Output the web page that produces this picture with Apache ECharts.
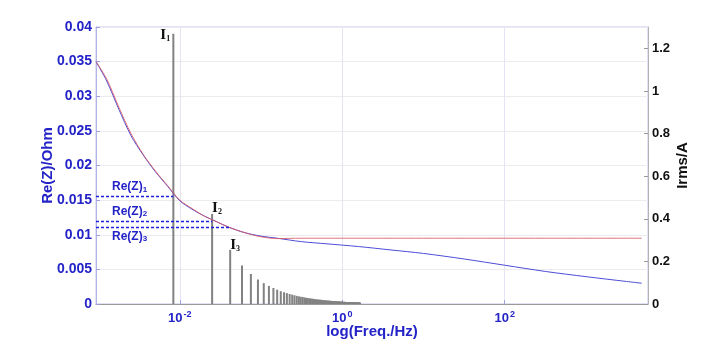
<!DOCTYPE html>
<html>
<head>
<meta charset="utf-8">
<script src="https://cdn.jsdelivr.net/npm/echarts@6/dist/echarts.min.js"></script>
<style>
html, body { margin: 0; padding: 0; background: #fff; }
#main { width: 707px; height: 340px; }
</style>
</head>
<body>
<div id="main"></div>
<script>
// axis ranges
var freqMin = 0.00093, freqMax = 5800;
var xTicks = [0.01, 1, 100];
var reMax = 0.04, reStep = 0.005;
var irmsMax = 1.3, irmsStep = 0.2;

// Re(Z) curves (freq in Hz)
var curveFreq = [0.00093, 0.00126, 0.00178, 0.00251, 0.00355, 0.00501, 0.00708, 0.01, 0.0141, 0.02, 0.0282, 0.0398,
    0.0631, 0.1, 0.158, 0.316, 0.631, 1.58, 3.98, 10, 31.6, 100, 316, 1000, 3162, 4850];
var reMeasured = [0.0350, 0.0322, 0.0281, 0.0243, 0.0215, 0.0191, 0.0170, 0.0149, 0.0137, 0.0127, 0.0119, 0.0111,
    0.0103, 0.0098, 0.0095, 0.0090, 0.0087, 0.0083, 0.0078, 0.0073, 0.0065, 0.0056, 0.0047, 0.00395, 0.00325, 0.0030];
var reFitted = [0.0350, 0.0325, 0.0284, 0.0246, 0.0216, 0.0192, 0.0171, 0.0150, 0.0138, 0.0127, 0.0119, 0.0111,
    0.0103, 0.0097, 0.00945, 0.0095, 0.0095, 0.0095, 0.0095, 0.0095, 0.0095, 0.0095, 0.0095, 0.0095, 0.0095, 0.0095];

// current harmonics
var harmFreq = [0.00833, 0.0250, 0.0417, 0.0583, 0.0750, 0.0916, 0.108, 0.125, 0.142, 0.158, 0.175, 0.192, 0.208,
    0.225, 0.242, 0.258, 0.275, 0.292, 0.308, 0.325, 0.342, 0.358, 0.375, 0.392, 0.408, 0.425, 0.441, 0.458, 0.475,
    0.491, 0.508, 0.525, 0.541, 0.558, 0.575, 0.591, 0.608, 0.625, 0.641, 0.658, 0.675, 0.691, 0.708, 0.725, 0.741,
    0.758, 0.775, 0.791, 0.808, 0.825, 0.841, 0.858, 0.875, 0.891, 0.908, 0.925, 0.941, 0.958, 0.975, 0.991, 1.008,
    1.025, 1.041, 1.058, 1.075, 1.091, 1.108, 1.125, 1.141, 1.158, 1.175, 1.191, 1.208, 1.225, 1.241, 1.258, 1.274,
    1.291, 1.308, 1.324, 1.341, 1.358, 1.374, 1.391, 1.408, 1.424, 1.441, 1.458, 1.474, 1.491, 1.508, 1.524, 1.541,
    1.558, 1.574, 1.591, 1.608, 1.624, 1.641, 1.658];
var harmIrms = [1.268, 0.423, 0.254, 0.181, 0.141, 0.115, 0.098, 0.085, 0.075, 0.067, 0.060, 0.055, 0.051,
    0.047, 0.044, 0.041, 0.038, 0.036, 0.034, 0.033, 0.031, 0.029, 0.028, 0.027, 0.026, 0.025, 0.024, 0.023, 0.022,
    0.021, 0.021, 0.020, 0.020, 0.019, 0.018, 0.018, 0.017, 0.017, 0.016, 0.016, 0.016, 0.015, 0.015, 0.015, 0.014,
    0.014, 0.014, 0.013, 0.013, 0.013, 0.013, 0.012, 0.012, 0.012, 0.012, 0.011, 0.011, 0.011, 0.011, 0.011, 0.010,
    0.010, 0.010, 0.010, 0.010, 0.0097, 0.0095, 0.0094, 0.0093, 0.0091, 0.0090, 0.0089, 0.0087, 0.0086, 0.0085, 0.0084, 0.0083,
    0.0082, 0.0081, 0.0080, 0.0079, 0.0078, 0.0077, 0.0076, 0.0075, 0.0074, 0.0073, 0.0072, 0.0072, 0.0071, 0.0070, 0.0069, 0.0069,
    0.0068, 0.0067, 0.0066, 0.0066, 0.0065, 0.0064, 0.0064];
var harmNames = ['1', '2', '3'];

// Re(Z) read-off levels
var refNames = ['1', '2', '3'];
var refLevels = [0.0155, 0.0120, 0.0111];
var refFreq = [0.00833, 0.0250, 0.0417];

var blue = '#2323c8';
var myChart = echarts.init(document.getElementById('main'));

var labelPos = [[-12, -6], [1, -13], [1, -12]];
var barData = harmFreq.map(function (f, i) {
    var item = { value: [f, harmIrms[i]] };
    if (i < harmNames.length) {
        item.label = {
            show: true,
            position: labelPos[i],
            formatter: '{i|I}{s|' + harmNames[i] + '}',
            rich: {
                i: { fontFamily: 'Liberation Serif', fontWeight: 'bold', fontSize: 15, color: '#111' },
                s: { fontFamily: 'Liberation Serif', fontWeight: 'bold', fontSize: 8, color: '#111', verticalAlign: 'bottom', padding: [6, 0, 0, 0] }
            }
        };
    }
    return item;
});

var dashStyle = { color: '#2020e0', type: [3, 2], width: 1.4, opacity: 1 };
var refLines = refLevels.map(function (lv, i) {
    return [
        {
            coord: [freqMin, lv],
            lineStyle: dashStyle,
            label: {
                show: true,
                position: i === 2 ? 'insideStartBottom' : 'insideStartTop',
                formatter: 'Re(Z){s|' + refNames[i] + '}'
            }
        },
        { coord: [refFreq[i], lv], lineStyle: dashStyle }
    ];
});

var option = {
    animation: false,
    grid: {
        left: 96, right: 59, top: 27, bottom: 36,
        containLabel: false, outerBoundsMode: 'none',
        show: true, borderColor: '#c4c4ec', borderWidth: 1
    },
    xAxis: {
        type: 'log',
        min: freqMin,
        max: freqMax,
        name: 'log(Freq./Hz)',
        nameLocation: 'middle',
        nameGap: 20,
        nameMoveOverlap: false,
        nameTextStyle: { color: blue, fontSize: 15, fontWeight: 'bold', fontFamily: 'Liberation Sans' },
        axisLine: { lineStyle: { color: '#9a9a9a' } },
        axisTick: { inside: true, length: 4, customValues: xTicks, lineStyle: { color: '#a0a0e0' } },
        axisLabel: {
            customValues: xTicks,
            margin: 6,
            formatter: function (v) { return '10{s|' + Math.round(Math.log10(v)) + '}'; },
            color: blue, fontSize: 13, fontWeight: 'bold', fontFamily: 'Liberation Sans',
            rich: { s: { fontSize: 9, fontWeight: 'bold', color: blue, fontFamily: 'Liberation Sans', verticalAlign: 'top', padding: [0, 0, 7, 1] } }
        },
        splitLine: { show: true, lineStyle: { color: '#e4e4f4' } }
    },
    yAxis: [
        {
            type: 'value',
            min: 0, max: reMax, interval: reStep,
            name: 'Re(Z)/Ohm',
            nameLocation: 'middle',
            nameGap: 41,
            nameMoveOverlap: false,
            nameTextStyle: { color: blue, fontSize: 15, fontWeight: 'bold', fontFamily: 'Liberation Sans' },
            axisLine: { show: true, lineStyle: { color: '#b4b4e8' } },
            axisTick: { show: true, inside: true, length: 4, lineStyle: { color: '#a0a0e0' } },
            axisLabel: { color: blue, fontSize: 14, fontWeight: 'bold', fontFamily: 'Liberation Sans', margin: 4 },
            splitLine: { show: true, lineStyle: { color: '#ebebf0' } }
        },
        {
            type: 'value',
            min: 0, max: irmsMax, interval: irmsStep,
            name: 'Irms/A',
            nameLocation: 'middle',
            nameRotate: 90,
            nameGap: 27,
            nameMoveOverlap: false,
            nameTextStyle: { color: '#111', fontSize: 15, fontWeight: 'bold', fontFamily: 'Liberation Sans' },
            axisLine: { show: true, lineStyle: { color: '#b4b4b4' } },
            axisTick: { show: true, inside: true, length: 4, lineStyle: { color: '#999' } },
            axisLabel: { color: '#111', fontSize: 13, fontWeight: 'bold', fontFamily: 'Liberation Sans', margin: 4, showMaxLabel: false },
            splitLine: { show: false }
        }
    ],
    series: [
        {
            name: 'Irms',
            type: 'bar',
            yAxisIndex: 1,
            barWidth: 2,
            itemStyle: { color: '#828282' },
            data: barData,
            z: 1
        },
        {
            name: 'Re(Z) measured',
            type: 'line',
            yAxisIndex: 0,
            showSymbol: false,
            smooth: 0.3,
            lineStyle: { color: '#4c4cd6', width: 1 },
            data: curveFreq.map(function (f, i) { return [f, reMeasured[i]]; }),
            markLine: {
                silent: true,
                symbol: 'none',
                label: {
                    color: blue, fontSize: 12, fontWeight: 'bold', fontFamily: 'Liberation Sans', distance: [16, 3],
                    rich: { s: { fontSize: 8, fontWeight: 'bold', color: blue, fontFamily: 'Liberation Sans', verticalAlign: 'bottom', padding: [5, 0, 0, 0] } }
                },
                data: refLines
            },
            z: 3
        },
        {
            name: 'Re(Z) fitted',
            type: 'line',
            yAxisIndex: 0,
            showSymbol: false,
            smooth: 0.3,
            lineStyle: { color: '#da5a66', width: 1, opacity: 0.85 },
            data: curveFreq.map(function (f, i) { return [f, reFitted[i]]; }),
            z: 4
        }
    ]
};

myChart.setOption(option);
</script>
</body>
</html>
